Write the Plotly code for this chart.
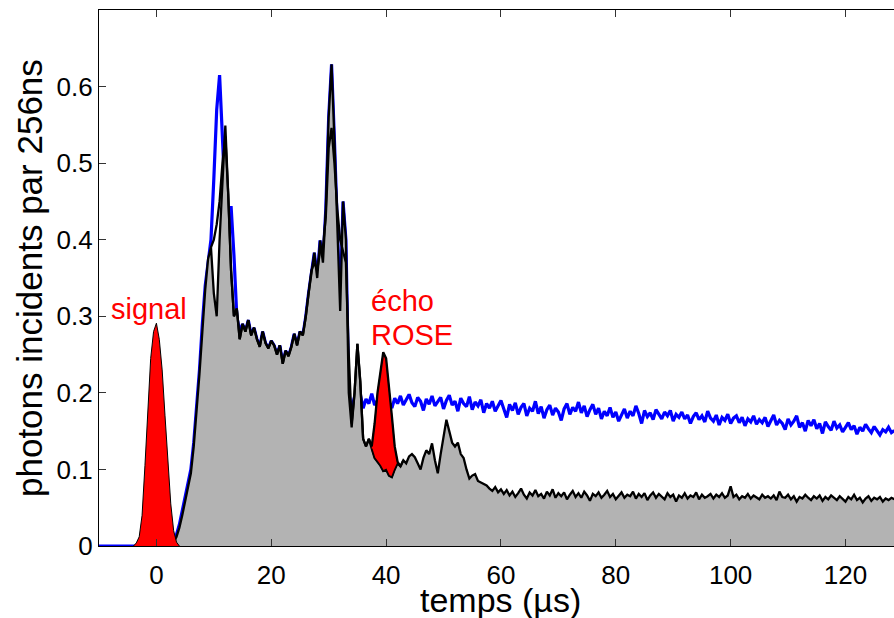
import plotly.graph_objects as go

# ---------------- data ----------------
step = 0.5  # µs between samples

# blue curve (sans écho), t = -10.0 ... 128.5
blue_t0 = -10.0
blue = [0.0] * 24 + [
    0.002, 0.004, 0.008, 0.015, 0.028, 0.045, 0.062, 0.08, 0.10, 0.135,
    0.18, 0.23, 0.29, 0.34, 0.37, 0.40, 0.48, 0.57, 0.615, 0.54,
    0.45, 0.40, 0.444, 0.38, 0.30, 0.28,
    0.29, 0.28, 0.295, 0.275, 0.285, 0.27, 0.26, 0.28, 0.265, 0.258,
    0.268, 0.262, 0.25, 0.262, 0.238, 0.255, 0.248, 0.26, 0.277, 0.262,
    0.28, 0.275, 0.299, 0.33, 0.36, 0.383, 0.35, 0.399, 0.37, 0.44,
    0.56, 0.629, 0.53, 0.42, 0.307, 0.45, 0.40, 0.2,
    0.178, 0.195, 0.185, 0.198, 0.180, 0.192, 0.186, 0.199, 0.184, 0.190,
    0.195, 0.183, 0.197, 0.188, 0.180, 0.193, 0.186, 0.196, 0.184, 0.191,
    0.198, 0.187, 0.182, 0.194, 0.189, 0.177, 0.192, 0.185, 0.196, 0.183,
    0.188, 0.194, 0.179, 0.190, 0.197, 0.184, 0.189, 0.176, 0.193, 0.186,
    0.182, 0.195, 0.178, 0.188, 0.183, 0.191, 0.174, 0.186, 0.180, 0.189,
    0.176, 0.184, 0.190, 0.179, 0.168, 0.185, 0.177, 0.187, 0.172, 0.181,
    0.186, 0.170, 0.180, 0.176, 0.189, 0.173, 0.182, 0.167, 0.178, 0.184,
    0.171, 0.180, 0.175, 0.164, 0.179, 0.186, 0.172, 0.181, 0.176, 0.188,
    0.174, 0.183, 0.169, 0.178, 0.185, 0.172, 0.180, 0.166, 0.176, 0.170,
    0.181, 0.168, 0.175, 0.163, 0.172, 0.179, 0.167, 0.176, 0.170, 0.183,
    0.173, 0.160, 0.177, 0.169, 0.174, 0.165, 0.178, 0.171, 0.166, 0.175,
    0.170, 0.177, 0.163, 0.172, 0.168, 0.175, 0.166, 0.171, 0.160, 0.169,
    0.174, 0.165, 0.170, 0.162, 0.176, 0.167, 0.163, 0.171, 0.158, 0.168,
    0.164, 0.172, 0.160, 0.167, 0.170, 0.161, 0.168, 0.157, 0.166, 0.162,
    0.170, 0.159, 0.165, 0.161, 0.168, 0.156, 0.163, 0.171, 0.158, 0.164,
    0.160, 0.152, 0.166, 0.158, 0.163, 0.170, 0.155, 0.161, 0.150, 0.164,
    0.157, 0.165, 0.153, 0.160, 0.147, 0.162, 0.156, 0.151, 0.163, 0.154,
    0.158, 0.149, 0.155, 0.161, 0.152, 0.157, 0.146, 0.155, 0.150, 0.159,
    0.153, 0.148, 0.156, 0.150, 0.145, 0.152, 0.149, 0.155, 0.148, 0.151,
]

# black curve with grey area (sans écho), t = 2.0 ... 128.5
black_t0 = 2.0
black = [
    0.0, 0.002, 0.005, 0.012, 0.024, 0.04, 0.058, 0.075, 0.095, 0.13,
    0.175, 0.225, 0.28, 0.335, 0.375, 0.39, 0.33, 0.30, 0.40, 0.47,
    0.549, 0.46, 0.36, 0.30, 0.31, 0.27, 0.29, 0.28, 0.295, 0.275,
    0.285, 0.27, 0.26, 0.28, 0.265, 0.258, 0.268, 0.262, 0.25, 0.262,
    0.238, 0.255, 0.248, 0.26, 0.277, 0.262, 0.28, 0.275, 0.299, 0.33,
    0.36, 0.383, 0.35, 0.399, 0.37, 0.44, 0.56, 0.629, 0.53, 0.42,
    0.307, 0.45, 0.40, 0.2, 0.155, 0.2, 0.264, 0.215, 0.14, 0.13,
    0.14, 0.127, 0.115, 0.11, 0.105, 0.098, 0.10, 0.092, 0.09, 0.10,
    0.108, 0.104, 0.112, 0.108, 0.117, 0.12, 0.116, 0.108, 0.1, 0.115,
    0.125, 0.12, 0.134, 0.112, 0.095, 0.12, 0.145, 0.165, 0.15, 0.135,
    0.13, 0.135, 0.12, 0.115, 0.1, 0.088, 0.092, 0.094, 0.085, 0.083,
    0.08, 0.079, 0.075, 0.072, 0.077, 0.07, 0.074, 0.068, 0.073, 0.066,
    0.071, 0.064, 0.069, 0.075, 0.067, 0.062, 0.07, 0.066, 0.073, 0.065,
    0.068, 0.062, 0.071, 0.066, 0.074, 0.063, 0.069, 0.065, 0.07, 0.061,
    0.067, 0.072, 0.064, 0.069, 0.063, 0.071, 0.066, 0.059, 0.068, 0.065,
    0.07, 0.063, 0.067, 0.072, 0.064, 0.068, 0.061, 0.066, 0.07, 0.063,
    0.067, 0.065, 0.071, 0.062, 0.068, 0.064, 0.069, 0.06, 0.066, 0.07,
    0.063, 0.068, 0.065, 0.061, 0.069, 0.064, 0.067, 0.058, 0.066, 0.063,
    0.069, 0.062, 0.066, 0.064, 0.07, 0.061, 0.067, 0.063, 0.065, 0.068,
    0.062, 0.067, 0.064, 0.069, 0.063, 0.066, 0.078, 0.064, 0.067, 0.061,
    0.065, 0.063, 0.068, 0.062, 0.066, 0.064, 0.061, 0.067, 0.063, 0.065,
    0.062, 0.066, 0.06, 0.071, 0.064, 0.063, 0.067, 0.061, 0.065, 0.058,
    0.064, 0.062, 0.067, 0.063, 0.06, 0.065, 0.062, 0.066, 0.059, 0.064,
    0.061, 0.066, 0.063, 0.06, 0.065, 0.062, 0.058, 0.064, 0.061, 0.067,
    0.06, 0.063, 0.057, 0.062, 0.065, 0.059, 0.063, 0.061, 0.064, 0.058,
    0.062, 0.06, 0.063, 0.061,
]

# second black curve (avec écho), t = 9.5 ... 43.0
black2_t0 = 9.5
black2 = [
    0.39, 0.40, 0.42, 0.45, 0.50, 0.535, 0.46, 0.36, 0.30, 0.31,
    0.27, 0.29, 0.28, 0.295, 0.275, 0.285, 0.27, 0.26, 0.28, 0.265,
    0.258, 0.268, 0.262, 0.25, 0.262, 0.238, 0.255, 0.248, 0.26, 0.277,
    0.262, 0.28, 0.275, 0.299, 0.33, 0.36, 0.37, 0.36, 0.385, 0.39,
    0.43, 0.52, 0.546, 0.50, 0.44, 0.40, 0.385, 0.37, 0.25, 0.16,
    0.2, 0.264, 0.215, 0.14, 0.13, 0.14, 0.13, 0.16, 0.20, 0.23,
    0.253, 0.245, 0.21, 0.17, 0.13, 0.11, 0.104, 0.112,
]

# écho ROSE (red area top), t = 37.5 ... 42.5
echo_t0 = 37.5
echo_top = [0.13, 0.16, 0.20, 0.23, 0.253, 0.245, 0.21, 0.17, 0.13, 0.11, 0.104]

# emitted signal, t = -4.0 ... 4.0
signal_t0 = -4.0
signal = [0.0, 0.004, 0.012, 0.04, 0.105, 0.175, 0.245, 0.28, 0.291,
          0.27, 0.23, 0.17, 0.11, 0.055, 0.02, 0.005, 0.0]

x_ticks = [0, 20, 40, 60, 80, 100, 120]
y_ticks = [0, 0.1, 0.2, 0.3, 0.4, 0.5, 0.6]


def grid(t0, n):
    return [t0 + step * i for i in range(n)]


i_echo = int(round((echo_t0 - black_t0) / step))
echo_base = black[i_echo:i_echo + len(echo_top)]

FONT = "Liberation Sans, Arial, Helvetica, sans-serif"

fig = go.Figure()

fig.add_trace(go.Scatter(x=grid(blue_t0, len(blue)), y=blue, mode="lines",
                         line=dict(color="#0000ff", width=3.2), showlegend=False))
fig.add_trace(go.Scatter(x=grid(black_t0, len(black)), y=black, mode="lines",
                         fill="tozeroy", fillcolor="#b3b3b3",
                         line=dict(color="black", width=2.3), showlegend=False))
fig.add_trace(go.Scatter(x=grid(echo_t0, len(echo_base)), y=echo_base, mode="lines",
                         line=dict(color="black", width=1.5), showlegend=False))
fig.add_trace(go.Scatter(x=grid(echo_t0, len(echo_top)), y=echo_top, mode="lines",
                         fill="tonexty", fillcolor="#ff0000",
                         line=dict(color="black", width=1), showlegend=False))
fig.add_trace(go.Scatter(x=grid(black2_t0, len(black2)), y=black2, mode="lines",
                         line=dict(color="black", width=2.3), showlegend=False))
fig.add_trace(go.Scatter(x=grid(signal_t0, len(signal)), y=signal, mode="lines",
                         fill="tozeroy", fillcolor="#ff0000",
                         line=dict(color="black", width=1), showlegend=False))

fig.add_annotation(x=-1.25, y=0.309, xref="x", yref="y", text="signal",
                   xanchor="center", yanchor="middle",
                   showarrow=False, font=dict(family=FONT, size=29, color="#ff0000"))
fig.add_annotation(x=37.0, y=0.3197, xref="x", yref="y", text="écho",
                   xanchor="left", yanchor="middle",
                   showarrow=False, font=dict(family=FONT, size=29, color="#ff0000"))
fig.add_annotation(x=37.0, y=0.2753, xref="x", yref="y", text="ROSE",
                   xanchor="left", yanchor="middle",
                   showarrow=False, font=dict(family=FONT, size=29, color="#ff0000"))

# axis titles
fig.add_annotation(x=(500 - 99) / 795, y=-(600 - 545.7) / 536, xref="paper", yref="paper",
                   text="temps (µs)", showarrow=False, xanchor="center", yanchor="middle",
                   borderpad=0,
                   font=dict(family=FONT, size=34, color="black"))
fig.add_annotation(x=(29 - 99) / 795, y=0.5, xref="paper", yref="paper",
                   text="photons incidents par 256ns", textangle=-90, showarrow=False,
                   xanchor="center", yanchor="middle",
                   font=dict(family=FONT, size=35, color="black"))

fig.update_layout(
    width=894, height=618,
    margin=dict(l=99, r=0, t=10, b=72),
    paper_bgcolor="white", plot_bgcolor="white",
    font=dict(family=FONT, size=26, color="black"),
    xaxis=dict(range=[-10, 128.45], tickvals=x_ticks, ticks="inside", ticklen=7,
               tickcolor="#333", showline=True, linecolor="black", linewidth=1.3,
               mirror="ticks", showgrid=False, zeroline=False, ticklabelstandoff=6,
               tickfont=dict(family=FONT, size=26, color="black")),
    yaxis=dict(range=[0, 0.7], tickvals=y_ticks, ticks="inside", ticklen=7,
               tickcolor="#333", showline=True, linecolor="black", linewidth=1.3,
               showgrid=False, zeroline=False,
               tickfont=dict(family=FONT, size=26, color="black")),
)

fig.write_html(
    "out.html",
    config={"displayModeBar": False},
    post_script="document.body.style.margin='0';document.body.style.overflow='hidden';",
)
